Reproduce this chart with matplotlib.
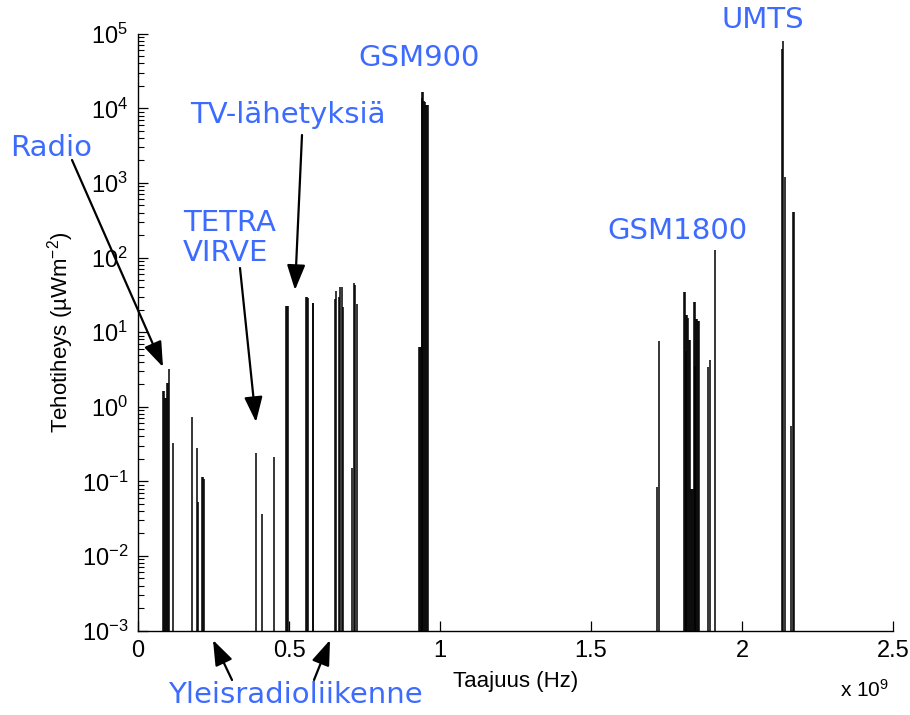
import numpy as np
import matplotlib
matplotlib.use('Agg')
import matplotlib.pyplot as plt
from matplotlib.ticker import LogLocator, NullFormatter, FuncFormatter

plt.rcParams['font.family'] = 'Liberation Sans'
plt.rcParams['mathtext.fontset'] = 'custom'
plt.rcParams['mathtext.rm'] = 'Liberation Sans'
plt.rcParams['mathtext.it'] = 'Liberation Sans:italic'

# measured power density per band, frequencies in MHz, values in uW/m^2
radio_f = [84, 87, 90, 93, 96, 99, 102, 115]
radio_p = [1.64, 1.64, 1.32, 1.32, 2.08, 2.08, 3.2, 0.33]

vhf_f = [178, 196, 200, 213, 216, 219]
vhf_p = [0.73, 0.28, 0.053, 0.113, 0.113, 0.106]

tetra_f = [392, 410, 449]
tetra_p = [0.237, 0.037, 0.214]

tv_f = [490, 493, 496, 557, 560, 564, 578, 581,
        651, 657, 664, 670, 675, 680, 709, 714, 719, 726]
tv_p = [22.6, 22.6, 22.6, 29.8, 29.8, 28.3, 24.3, 24.3,
        27.5, 35.8, 30.0, 39.8, 39.8, 21.9, 0.15, 46.0, 42.8, 23.8]

gsm900_f = [930, 933, 936, 939, 942, 945, 948, 951, 954, 957, 960]
gsm900_p = [6.4, 6.4, 6.4, 1.36e4, 1.67e4, 1.67e4, 1.25e4, 1.2e4, 1.1e4, 1.1e4, 1.1e4]

gsm1800_f = [1718, 1724, 1807, 1810, 1813, 1816, 1819, 1822, 1825, 1828,
             1831, 1834, 1837, 1840, 1843, 1846, 1849, 1852, 1855, 1858,
             1888, 1893, 1912]
gsm1800_p = [0.083, 7.5, 35, 35, 5.5, 16.9, 16.9, 15.3, 7.8, 7.8,
             0.08, 0.08, 0.08, 25.5, 25.5, 3.5, 14.8, 14.8, 14.1, 14.1,
             3.4, 4.2, 126]

umts_f = [2132, 2135, 2144, 2162, 2168, 2172]
umts_p = [6.3e4, 8.0e4, 1.2e3, 0.55, 405, 405]

bands = [(radio_f, radio_p), (vhf_f, vhf_p), (tetra_f, tetra_p), (tv_f, tv_p),
         (gsm900_f, gsm900_p), (gsm1800_f, gsm1800_p), (umts_f, umts_p)]

FLOOR = 1e-3
W, H = 910, 715
BLUE = '#3d6bff'

fig = plt.figure(figsize=(W / 100, H / 100), dpi=100)
ax = fig.add_axes([138 / W, 1 - 630.5 / H, 755 / W, 596.8 / H])

for f, p in bands:
    ax.vlines(np.array(f) * 1e6, FLOOR, p, color='black', lw=1.1)

ax.set_yscale('log')
ax.set_ylim(FLOOR, 1e5)
ax.set_xlim(0, 2.5e9)
ax.set_xticks(np.arange(0, 2.51e9, 0.5e9))
ax.xaxis.set_major_formatter(FuncFormatter(lambda v, pos: '%g' % (v / 1e9)))
ax.yaxis.set_major_locator(LogLocator(base=10, numticks=20))
ax.yaxis.set_minor_locator(LogLocator(base=10, subs=np.arange(2, 10), numticks=100))
ax.yaxis.set_minor_formatter(NullFormatter())

for s in ['top', 'right']:
    ax.spines[s].set_visible(False)
for s in ['left', 'bottom']:
    ax.spines[s].set_linewidth(1.0)
ax.tick_params(which='both', direction='in', top=False, right=False, labelsize=17, pad=7)
ax.tick_params(which='major', length=7, width=0.9)
ax.tick_params(which='minor', length=4, width=0.8)

ax.set_xlabel('Taajuus (Hz)', fontsize=16, labelpad=6)
ax.set_ylabel('Tehotiheys (µWm$^{-2}$)', fontsize=16, labelpad=4)
fig.text(840 / W, 1 - 697 / H, r'x 10$^{9}$', fontsize=15, ha='left', va='baseline')


def px(x, y):
    return (x / W, 1 - y / H)


labels = [
    ('Radio', 10, 148),
    ('TV-lähetyksiä', 190, 115),
    ('TETRA\nVIRVE', 183, 238),
    ('GSM900', 358, 58),
    ('UMTS', 722, 20),
    ('GSM1800', 607, 231),
    ('Yleisradioliikenne', 168, 695),
]
for txt, x, y in labels:
    fig.text(*px(x, y), txt, color=BLUE, fontsize=21, family='DejaVu Sans',
             ha='left', va='center', linespacing=1.1)

arrows = [
    ((72, 160), (163, 367)),
    ((240, 268), (256, 422)),
    ((302, 135), (295, 290)),
    ((232, 680), (213, 640)),
    ((314, 680), (330, 640)),
]
for (x0, y0), (x1, y1) in arrows:
    ax.annotate('', xy=px(x1, y1), xycoords='figure fraction',
                xytext=px(x0, y0), textcoords='figure fraction',
                arrowprops=dict(arrowstyle='-|>,head_length=1.1,head_width=0.4',
                                mutation_scale=14, lw=1.6, color='black',
                                shrinkA=0, shrinkB=0),
                annotation_clip=False)

fig.savefig('out.png', dpi=100)
